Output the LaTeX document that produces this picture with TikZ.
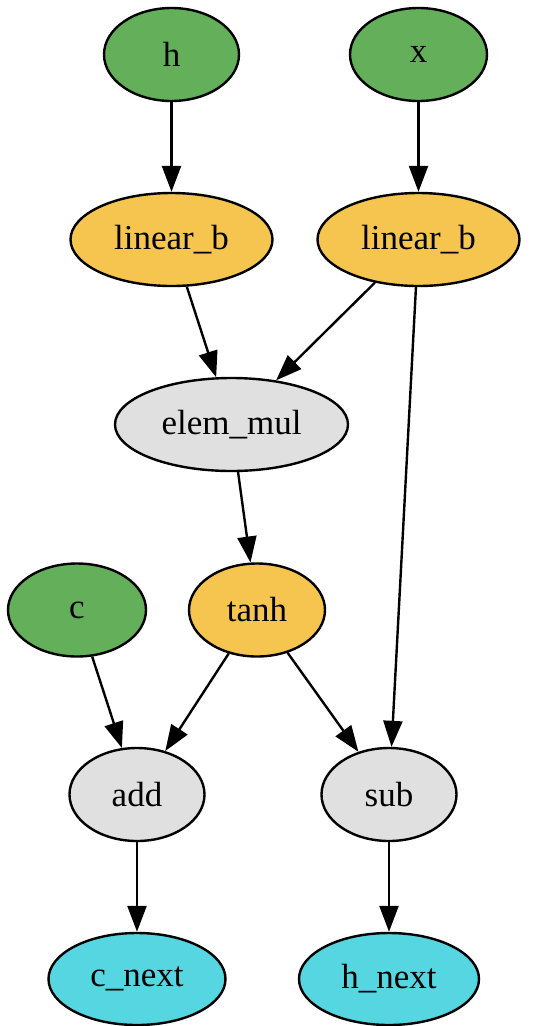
\documentclass[tikz,border=0pt]{standalone}
\usepackage{fontspec}
\setmainfont{Liberation Serif}
\usetikzlibrary{shapes.geometric,arrows.meta}
\definecolor{ingreen}{HTML}{63AF5A}
\definecolor{opyellow}{HTML}{F5C54F}
\definecolor{opgray}{HTML}{E0E0E0}
\definecolor{outcyan}{HTML}{56D6E0}
\tikzset{
  nd/.style={ellipse, draw=black, line width=2.4pt, inner sep=0pt, minimum height=93pt,
    font=\fontsize{35}{40}\selectfont},
  inp/.style={nd, fill=ingreen},
  lin/.style={nd, fill=opyellow},
  gop/.style={nd, fill=opgray},
  outp/.style={nd, fill=outcyan},
  edge/.style={line width=2.4pt, -{Triangle[length=26pt,width=19pt]}}
}
\begin{document}
\begin{tikzpicture}[x=1pt,y=-1pt]
\useasboundingbox (0,0) rectangle (540,1026);
\node[inp, minimum width=135pt] (h) at (171.5,54.5) {h};
\node[inp, minimum width=137pt] (x) at (418.5,54.5) {x};
\node[lin, minimum width=202pt] (lbL) at (171.5,239.5) {linear\_b};
\node[lin, minimum width=202pt] (lbR) at (418.5,239.5) {linear\_b};
\node[gop, minimum width=233pt] (mul) at (231.5,424.5) {elem\_mul};
\node[inp, minimum width=138pt] (c) at (77,610) {c};
\node[lin, minimum width=136pt] (tanh) at (257,610) {tanh};
\node[gop, minimum width=135pt] (add) at (137,794.5) {add};
\node[gop, minimum width=135pt] (sub) at (389,794.5) {sub};
\node[outp, minimum width=177pt, minimum height=92pt] (cn) at (137,979) {c\_next};
\node[outp, minimum width=180pt, minimum height=92pt] (hn) at (389,979) {h\_next};
\draw[edge] (h) -- (lbL);
\draw[edge] (x) -- (lbR);
\draw[edge] (lbL) -- (mul);
\draw[edge] (lbR) -- (mul);
\draw[edge] (lbR) -- (sub);
\draw[edge] (mul) -- (tanh);
\draw[edge] (c) -- (add);
\draw[edge] (tanh) -- (add);
\draw[edge] (tanh) -- (sub);
\draw[edge] (add) -- (cn);
\draw[edge] (sub) -- (hn);
\end{tikzpicture}
\end{document}
